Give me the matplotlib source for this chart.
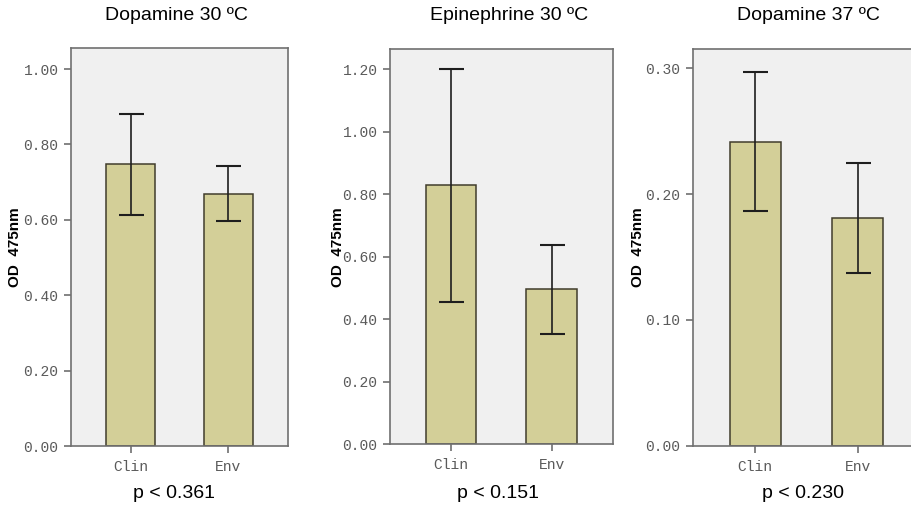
import numpy as np
import matplotlib
matplotlib.use('Agg')
import matplotlib.pyplot as plt

# values
groups = ['Clin', 'Env']
titles = ['Dopamine 30 \u00baC', 'Epinephrine 30 \u00baC', 'Dopamine 37 \u00baC']
p_labels = ['p < 0.361', 'p < 0.151', 'p < 0.230']

means_dopa30 = [0.748, 0.669]
upper_dopa30 = [0.882, 0.742]
lower_dopa30 = [0.614, 0.596]

means_epi30 = [0.829, 0.496]
upper_epi30 = [1.199, 0.637]
lower_epi30 = [0.456, 0.352]

means_dopa37 = [0.2417, 0.1808]
upper_dopa37 = [0.2969, 0.2245]
lower_dopa37 = [0.1864, 0.1370]

yticks_dopa30 = [0.0, 0.2, 0.4, 0.6, 0.8, 1.0]
yticks_epi30 = [0.0, 0.2, 0.4, 0.6, 0.8, 1.0, 1.2]
yticks_dopa37 = [0.0, 0.1, 0.2, 0.3]

W, H = 911, 517
bar_color = '#d3cf98'
bg_color = '#f0f0f0'
spine_color = '#707070'
tick_color = '#5a5a5a'

# axes boxes in pixels: left, right, top, bottom
boxes = [(71, 288, 48, 446), (390, 612.7, 49, 444.3), (692.7, 920, 49.3, 445.7)]
ytops = [1.056, 1.264, 0.315]
title_x = [176, 509, 808]
p_x = [174, 498, 803]
label_x = [15, 338, 638]

panels = [
    (means_dopa30, upper_dopa30, lower_dopa30, yticks_dopa30),
    (means_epi30, upper_epi30, lower_epi30, yticks_epi30),
    (means_dopa37, upper_dopa37, lower_dopa37, yticks_dopa37),
]

fig = plt.figure(figsize=(W / 100, H / 100), dpi=100)
fig.patch.set_facecolor('white')

for i, (means, upper, lower, yticks) in enumerate(panels):
    l, r, t, b = boxes[i]
    ax = fig.add_axes([l / W, 1 - b / H, (r - l) / W, (b - t) / H])
    ax.set_facecolor(bg_color)

    x = np.arange(len(groups))
    means = np.array(means)
    err = [means - np.array(lower), np.array(upper) - means]
    ax.bar(x, means, width=0.5, color=bar_color, edgecolor='#403c2c', linewidth=1.1, zorder=2)
    ax.errorbar(x, means, yerr=err, fmt='none', ecolor='#1e1e1e', elinewidth=1.2,
                capsize=9, capthick=1.5, zorder=3)

    ax.set_xlim(-0.61, 1.61)
    ax.set_ylim(0, ytops[i])
    ax.set_xticks(x)
    ax.set_xticklabels(groups)
    ax.set_yticks(yticks)
    ax.set_yticklabels(['%.2f' % v for v in yticks])

    for lab in ax.get_xticklabels() + ax.get_yticklabels():
        lab.set_fontfamily('Liberation Mono')
        lab.set_fontsize(10.5)
        lab.set_color(tick_color)
    ax.tick_params(axis='both', direction='out', length=5, width=1.2, color=spine_color, pad=4)
    ax.tick_params(axis='x', pad=5)

    for s in ax.spines.values():
        s.set_color(spine_color)
        s.set_linewidth(1.2)

    fig.text(label_x[i] / W, 1 - ((t + b) / 2) / H, 'OD  475nm', rotation=90,
             ha='center', va='center', fontsize=11, fontweight='bold',
             family='Liberation Sans')
    fig.text(title_x[i] / W, 1 - 16 / H, titles[i], ha='center', va='center',
             fontsize=14, family='Liberation Sans')
    fig.text(p_x[i] / W, 1 - 493 / H, p_labels[i], ha='center', va='center',
             fontsize=14, family='Liberation Sans')

fig.savefig('out.png', dpi=100, facecolor='white')
